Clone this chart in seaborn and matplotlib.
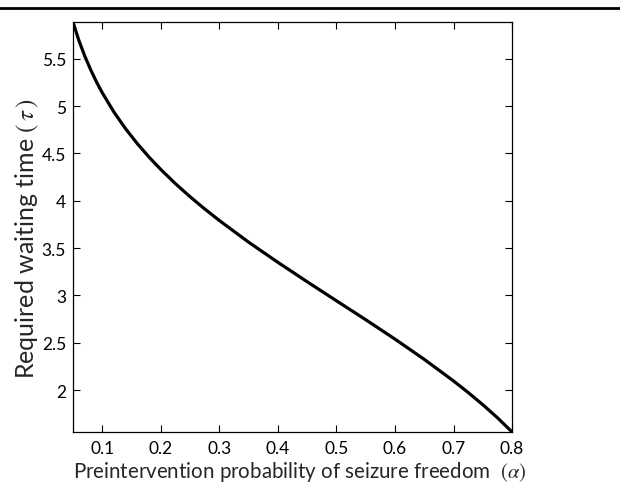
import matplotlib
matplotlib.use("Agg")
import matplotlib.pyplot as plt
import seaborn as sns
import pandas as pd
from matplotlib.lines import Line2D

# Values
alpha = [0.05, 0.06, 0.07, 0.08, 0.09, 0.10, 0.12, 0.14, 0.16, 0.18, 0.20,
         0.225, 0.25, 0.275, 0.30, 0.35, 0.40, 0.45, 0.50, 0.55, 0.60,
         0.65, 0.70, 0.725, 0.75, 0.775, 0.80]
tau = [5.889, 5.696, 5.531, 5.387, 5.258, 5.142, 4.937, 4.760, 4.603, 4.461, 4.331,
       4.181, 4.043, 3.914, 3.792, 3.563, 3.350, 3.145, 2.944, 2.744, 2.539,
       2.325, 2.097, 1.975, 1.846, 1.708, 1.558]

xticks = [0.1, 0.2, 0.3, 0.4, 0.5, 0.6, 0.7, 0.8]
xticklabels = ["0.1", "0.2", "0.3", "0.4", "0.5", "0.6", "0.7", "0.8"]
yticks = [2, 2.5, 3, 3.5, 4, 4.5, 5, 5.5]
yticklabels = ["2", "2.5", "3", "3.5", "4", "4.5", "5", "5.5"]

xlabel = r"Preintervention probability of seizure freedom  $(\alpha)$"
ylabel = r"Required waiting time $(\,\tau\,)$"

sns.set_theme(style="white")
plt.rcParams["font.family"] = ["Lato", "DejaVu Sans"]
plt.rcParams["mathtext.fontset"] = "stix"

df = pd.DataFrame({"alpha": alpha, "tau": tau})

fig = plt.figure(figsize=(6.2, 4.89), dpi=100)
ax = fig.add_axes([0.1177, 0.1145, 0.826 - 0.1177, 0.953 - 0.1145])

sns.lineplot(data=df, x="alpha", y="tau", ax=ax, color="black", linewidth=2.3)

ax.set_xlim(min(alpha), max(alpha))
ax.set_ylim(min(tau), max(tau))
ax.set_xticks(xticks)
ax.set_xticklabels(xticklabels)
ax.set_yticks(yticks)
ax.set_yticklabels(yticklabels)

ax.tick_params(direction="in", length=5, width=0.8, top=True, right=True,
               bottom=True, left=True, labelsize=12.5, colors="black", pad=6)
ax.tick_params(axis="y", pad=5)
for s in ax.spines.values():
    s.set_visible(True)
    s.set_color("black")
    s.set_linewidth(0.9)

ax.set_xlabel(xlabel, fontsize=14.8)
ax.set_ylabel(ylabel, fontsize=18)
ax.xaxis.set_label_coords(0.517, -0.066)
ax.yaxis.set_label_coords(-0.073, 0.475)

fig.add_artist(Line2D([0, 1], [0.9816, 0.9816], transform=fig.transFigure,
                      color="black", linewidth=2))

fig.savefig("out.png", dpi=100)
